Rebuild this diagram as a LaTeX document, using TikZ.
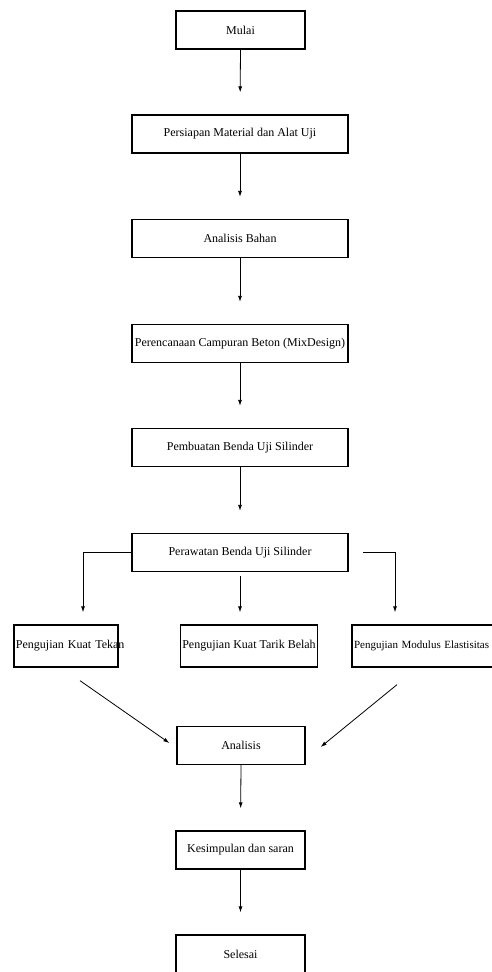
\documentclass[tikz,border=0pt]{standalone}
\usepackage{fontspec}
\setmainfont{Liberation Serif}
\usetikzlibrary{arrows.meta, positioning, calc}
\tikzset{
    kotak/.style={draw, line width=1.3pt, minimum height=38pt, inner sep=2pt,
        font=\fontsize{12}{14}\selectfont},
    panah/.style={-{Latex[length=6pt,width=4pt]}, line width=0.8pt},
}

\begin{document}
\begin{tikzpicture}[x=1pt, y=-1pt]
    \useasboundingbox (0,0) rectangle (491,972);
    % alur utama
    \node[kotak, minimum width=129pt] (mulai) at (240.5,30) {Mulai};
    \node[kotak, minimum width=216pt] (persiapan) at (240,134) {Persiapan Material dan Alat Uji};
    \node[kotak, minimum width=216pt] (bahan) at (240,238.5) {Analisis Bahan};
    \node[kotak, minimum width=216pt] (mixdesign) at (240,343.5) {Perencanaan Campuran Beton (MixDesign)};
    \node[kotak, minimum width=216pt] (pembuatan) at (240,447.5) {Pembuatan Benda Uji Silinder};
    \node[kotak, minimum width=216pt] (perawatan) at (240,552.5) {Perawatan Benda Uji Silinder};
    % pengujian
    \node[kotak, minimum height=42pt, text width=100pt, align=left] (tekan) at (66,646) {\mbox{Pengujian Kuat Tekan}};
    \node[kotak, minimum width=132pt, minimum height=42pt] (belah) at (249,646) {Pengujian Kuat Tarik Belah};
    \node[kotak, minimum height=42pt, text width=144pt, align=left, font=\fontsize{11}{13}\selectfont] (modulus) at (426,646) {\mbox{Pengujian Modulus Elastisitas}};
    % akhir
    \node[kotak, minimum width=128pt] (analisis) at (241,745.5) {Analisis};
    \node[kotak, minimum width=129pt] (simpulan) at (240.5,850) {Kesimpulan dan saran};
    \node[kotak, minimum width=129pt] (selesai) at (240.5,954) {Selesai};

    \foreach \a/\b in {mulai/persiapan, persiapan/bahan, bahan/mixdesign, mixdesign/pembuatan,
        pembuatan/perawatan, analisis/simpulan, simpulan/selesai}
        \draw[panah, shorten >=22pt] (\a.south) -- (\b.north);

    % cabang
    \draw[panah] (perawatan.west) -| ([shift={(17,-12)}]tekan.north);
    \draw[panah] ([shift={(14,0)}]perawatan.east) -| ([shift={(-31,-12)}]modulus.north);
    \draw[panah, shorten <=4pt, shorten >=12pt] (perawatan.south) -- (perawatan.south |- belah.north);

    % ke analisis
    \draw[panah] ([shift={(14,13)}]tekan.south) -- ([shift={(-7,-2.5)}]analisis.west);
    \draw[panah] ([shift={(-29,17)}]modulus.south) -- ([shift={(15,1.5)}]analisis.east);
\end{tikzpicture}
\end{document}
